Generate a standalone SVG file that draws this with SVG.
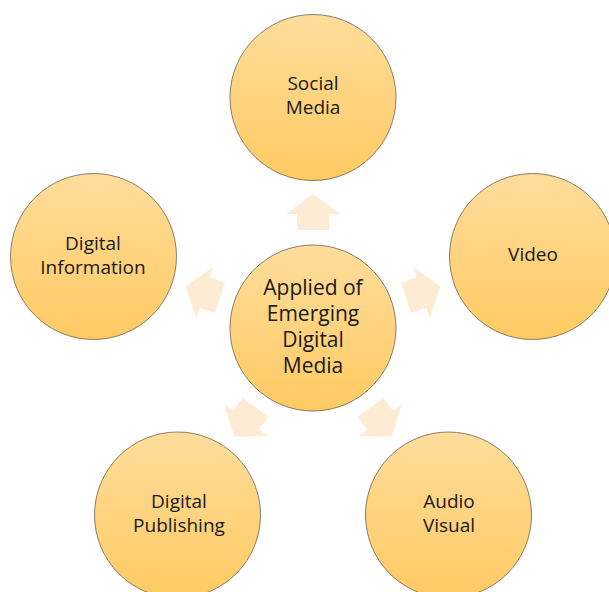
<svg xmlns="http://www.w3.org/2000/svg" width="609" height="592" viewBox="0 0 609 592">
<defs>
<linearGradient id="g" x1="0" y1="0" x2="0" y2="1">
<stop offset="0" stop-color="#FFDD9C"/>
<stop offset="1" stop-color="#FFCA62"/>
</linearGradient>
<path id="arr" d="M-16,-98 L-16,-114 L-27,-114 L0,-134 L27,-114 L16,-114 L16,-98 Z"/>
</defs>
<style>
.n circle{fill:url(#g);stroke:#6b6152;stroke-width:0.8}
.n text{font-family:"Open Sans","Noto Sans","Liberation Sans",sans-serif;font-size:19px;fill:#1a1a1a;text-anchor:middle}
.n text.c{font-size:21px}
.a use{fill:#FEEBD3}
</style>
<rect width="609" height="592" fill="#ffffff"/>
<g id="connectors" class="a">
<use href="#arr" transform="translate(313,328)"/>
<use href="#arr" transform="translate(313,328) rotate(72)"/>
<use href="#arr" transform="translate(313,328) rotate(144)"/>
<use href="#arr" transform="translate(313,328) rotate(-144)"/>
<use href="#arr" transform="translate(313,328) rotate(-72)"/>
</g>
<g id="center" class="n">
<circle cx="313" cy="328" r="83"/>
<text class="c" x="313" y="295">Applied of</text>
<text class="c" x="313" y="321">Emerging</text>
<text class="c" x="313" y="347">Digital</text>
<text class="c" x="313" y="373">Media</text>
</g>
<g id="social-media" class="n">
<circle cx="313" cy="97.5" r="83"/>
<text x="313" y="90">Social</text>
<text x="313" y="114">Media</text>
</g>
<g id="video" class="n">
<circle cx="532.5" cy="256.5" r="83"/>
<text x="533" y="261">Video</text>
</g>
<g id="audio-visual" class="n">
<circle cx="448.5" cy="515" r="83"/>
<text x="449" y="508">Audio</text>
<text x="449" y="532">Visual</text>
</g>
<g id="digital-publishing" class="n">
<circle cx="177.5" cy="515" r="83"/>
<text x="179" y="508">Digital</text>
<text x="179" y="532">Publishing</text>
</g>
<g id="digital-information" class="n">
<circle cx="93.5" cy="256.5" r="83"/>
<text x="93" y="250">Digital</text>
<text x="93" y="274">Information</text>
</g>
</svg>
